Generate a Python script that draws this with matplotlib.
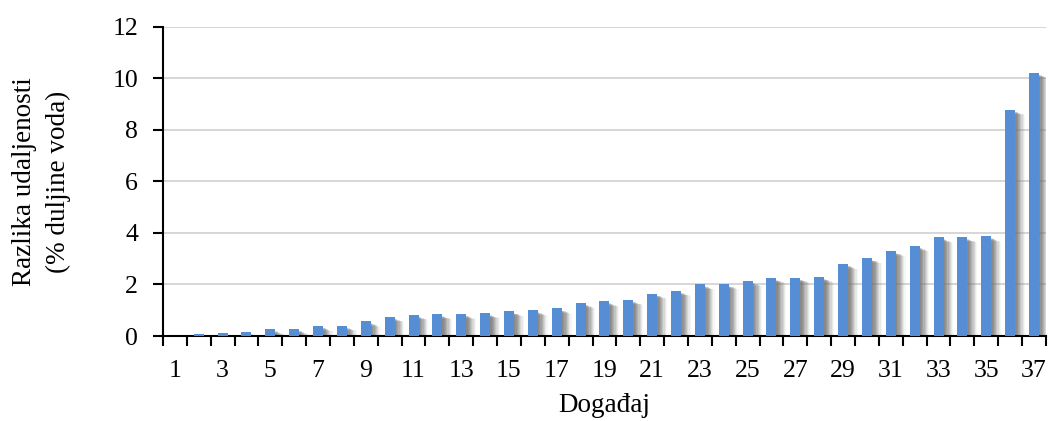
import numpy as np
import matplotlib.pyplot as plt

# podaci (očitani sa slike)
dogadaji = list(range(1, 38))
razlika = [0.01, 0.08, 0.10, 0.14, 0.26, 0.28, 0.39, 0.40, 0.57, 0.75,
           0.83, 0.85, 0.86, 0.89, 0.97, 1.00, 1.07, 1.29, 1.35, 1.41,
           1.65, 1.76, 2.01, 2.02, 2.14, 2.25, 2.27, 2.29, 2.80, 3.03,
           3.30, 3.50, 3.83, 3.84, 3.87, 8.79, 10.22]
xtick_labels = [str(d) if d % 2 == 1 else "" for d in dogadaji]

plt.rcParams['font.family'] = ['Liberation Serif', 'DejaVu Serif']

fig = plt.figure(figsize=(10.48, 4.21), dpi=100)
ax = fig.add_axes([0.1555, 0.2019, 0.8425, 0.7341])

x = np.arange(len(dogadaji))
sirina = 0.42
vis = np.array(razlika)

# sjena stupaca (mekana, pomaknuta udesno i malo dolje)
for dx, a in [(0.06, 0.25), (0.11, 0.25), (0.16, 0.24), (0.21, 0.22),
              (0.26, 0.18), (0.31, 0.14), (0.36, 0.1), (0.41, 0.06)]:
    ax.bar(x + dx, np.maximum(vis - 0.06 - 0.35 * dx, 0), width=sirina,
           color='#707070', alpha=a, linewidth=0, zorder=2)

ax.bar(x, razlika, width=sirina, color='#558ED5', linewidth=0, zorder=3)

ax.set_xlim(-0.5, len(dogadaji) - 0.5)
ax.set_ylim(0, 12)
ax.set_yticks(np.arange(0, 13, 2))
ax.yaxis.grid(True, color='#D0D0D0', linewidth=1.2, zorder=0)
ax.set_axisbelow(True)

ax.set_xticks(x)
ax.set_xticklabels(xtick_labels)
ax.set_xticks(np.arange(-0.5, len(dogadaji), 1), minor=True)
ax.tick_params(axis='x', which='major', length=0, pad=17, labelsize=18.5)
ax.tick_params(axis='x', which='minor', length=7, width=1.5, direction='out')
ax.tick_params(axis='y', length=7, width=1.5, direction='out', labelsize=18.5, pad=11)

for s in ['top', 'right']:
    ax.spines[s].set_visible(False)
ax.spines['left'].set_linewidth(1.5)
ax.spines['bottom'].set_linewidth(1.5)

ax.set_ylabel("Razlika udaljenosti\n(% duljine voda)", fontsize=19.5, labelpad=30,
              linespacing=1.45)
ax.set_xlabel("Događaj", fontsize=19.5, labelpad=8)

fig.savefig("out.png", dpi=100)
